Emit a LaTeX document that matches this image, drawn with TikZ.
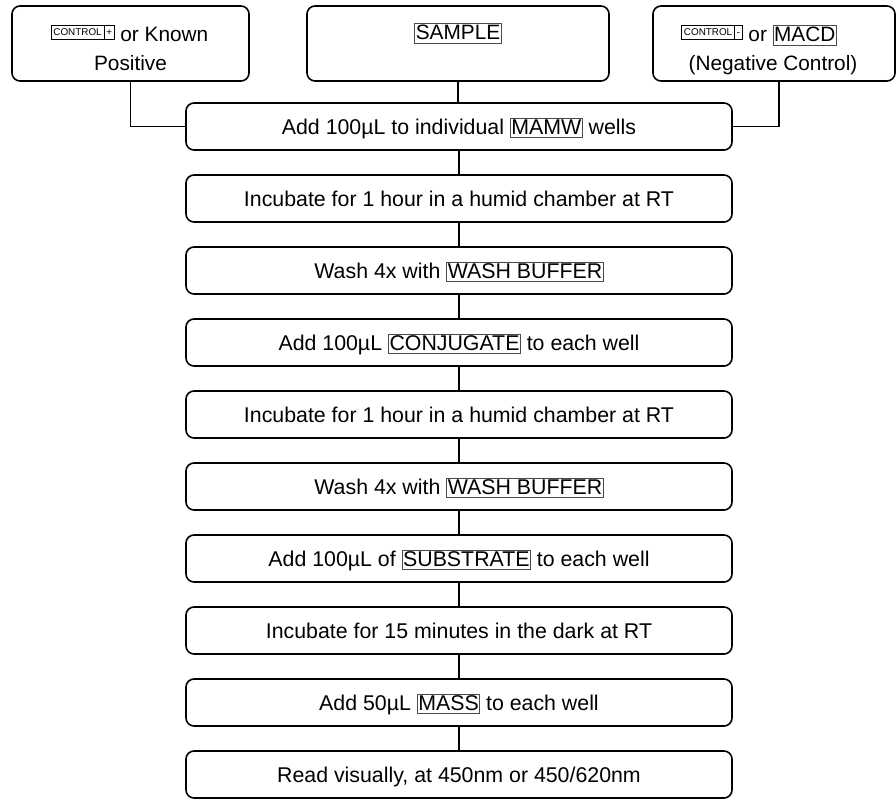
\documentclass[tikz,border=0pt]{standalone}
\usepackage{fontspec}
\setmainfont{Liberation Sans}
\definecolor{framegray}{HTML}{4A4A4A}
\newcommand{\bx}[1]{{\setlength\fboxsep{0.5pt}\setlength\fboxrule{0.55pt}\fcolorbox{framegray}{white}{\rule[-1.8pt]{0pt}{13.2pt}#1}}}
\newcommand{\ctlfont}{\fontsize{7.4pt}{8pt}\selectfont}
\newcommand{\ctl}[1]{\raisebox{4.6pt}{\setlength\fboxsep{2.4pt}\setlength\fboxrule{0.55pt}\fcolorbox{black}{white}{\ctlfont\hspace{-0.9pt}CONTROL\hspace{-0.9pt}}\kern-0.55pt\fcolorbox{black}{white}{\ctlfont\hspace{-1pt}\vphantom{CONTROL}#1\hspace{-1pt}}}}
\tikzset{
  stepbox/.style={draw, line width=1.2pt, rounded corners=6pt, minimum width=409.5pt, minimum height=35.25pt, inner sep=0pt, text height=11.4pt, text depth=0pt, font=\fontsize{16pt}{19pt}\selectfont},
  topbox/.style={draw, line width=1.2pt, rounded corners=6pt, minimum height=56.25pt, inner sep=0pt},
  linetext/.style={anchor=base, inner sep=0pt, font=\fontsize{15.6pt}{19pt}\selectfont},
  conn/.style={line width=1.2pt}
}
\begin{document}
\begin{tikzpicture}[x=0.75pt,y=-0.75pt]
\useasboundingbox (0,0) rectangle (896,799);
% top boxes
\node[topbox, minimum width=177.75pt] (L) at (130.5,43.5) {};
\node[topbox, minimum width=226.5pt] (S) at (458,43.5) {};
\node[topbox, minimum width=181.5pt] (R) at (774,43.5) {};
\node[linetext] (L1) at (129.5,42) {\ctl{+} or Known};
\node[linetext] (L2) at (130.5,70) {Positive};
\node[linetext] (S1) at (458,39.5) {\bx{SAMPLE}};
\node[linetext] (R1) at (759,42) {\ctl{-} or \bx{MACD}};
\node[linetext] (R2) at (773,70) {(Negative Control)};
% main steps
\node[stepbox] (m1) at (459,126.5) {Add 100µL to individual \bx{MAMW} wells};
\node[stepbox] (m2) at (459,198.5) {Incubate for 1 hour in a humid chamber at RT};
\node[stepbox] (m3) at (459,270.5) {Wash 4x with \bx{WASH BUFFER}};
\node[stepbox] (m4) at (459,342.5) {Add 100µL \bx{CONJUGATE} to each well};
\node[stepbox] (m5) at (459,414.5) {Incubate for 1 hour in a humid chamber at RT};
\node[stepbox] (m6) at (459,486.5) {Wash 4x with \bx{WASH BUFFER}};
\node[stepbox] (m7) at (459,558.5) {Add 100µL of \bx{SUBSTRATE} to each well};
\node[stepbox] (m8) at (459,630.5) {Incubate for 15 minutes in the dark at RT};
\node[stepbox] (m9) at (459,702.5) {Add 50µL \bx{MASS} to each well};
\node[stepbox] (m10) at (459,774.5) {Read visually, at 450nm or 450/620nm};
% connectors
\draw[conn] (L.south) |- (m1.west);
\draw[conn] ([xshift=3.75pt]R.south) |- (m1.east);
\draw[conn] (S.south) -- (S.south |- m1.north);
\foreach \a/\b in {m1/m2,m2/m3,m3/m4,m4/m5,m5/m6,m6/m7,m7/m8,m8/m9,m9/m10}
  \draw[conn] (\a.south) -- (\b.north);
\end{tikzpicture}
\end{document}
